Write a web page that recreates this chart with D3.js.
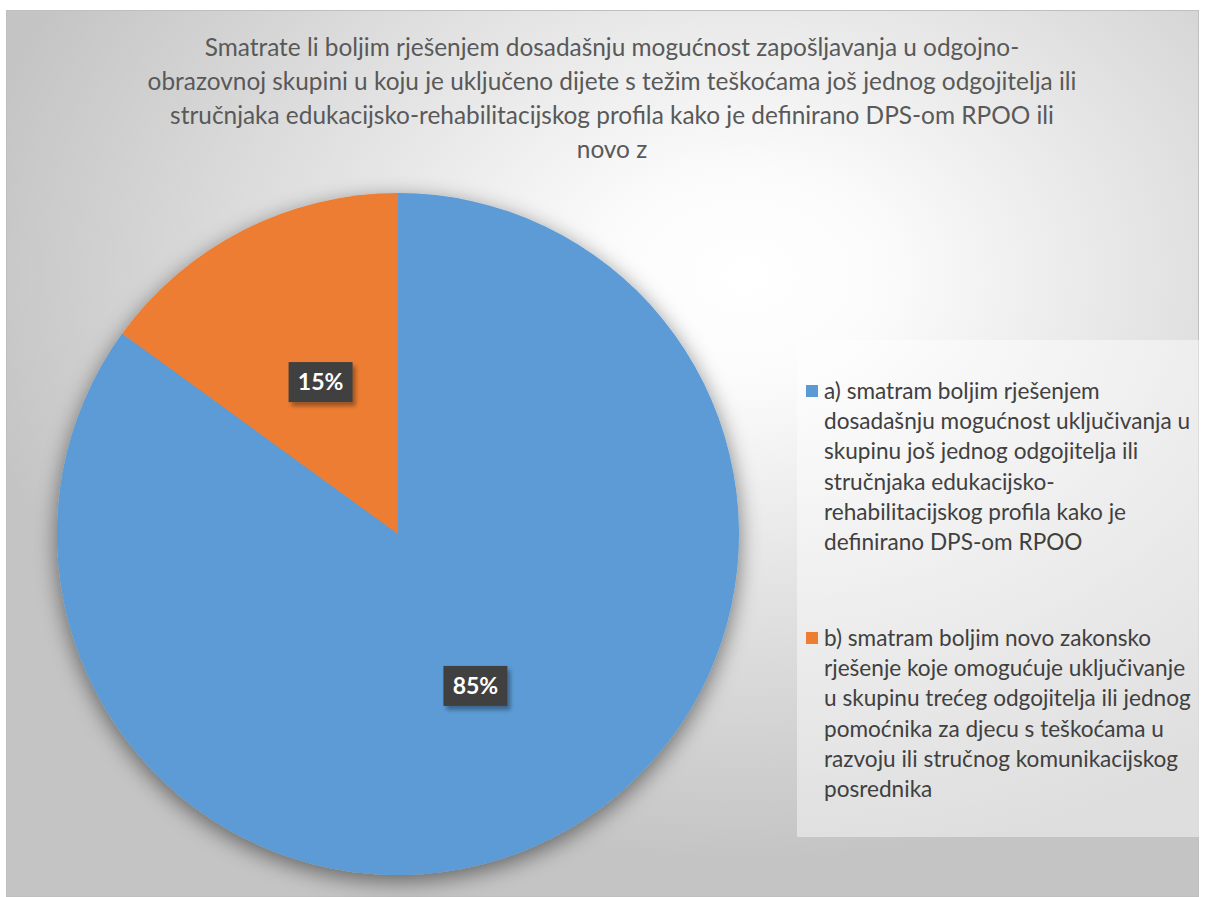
<!DOCTYPE html>
<html>
<head>
<meta charset="utf-8">
<script src="https://cdn.jsdelivr.net/npm/d3@7"></script>
<style>
  body { margin: 0; background: #fff; }
  svg { display: block; }
</style>
</head>
<body>
<div id="chart"></div>
<script>
// chart data
var titleLines = [
    "Smatrate li boljim rješenjem dosadašnju mogućnost zapošljavanja u odgojno-",
    "obrazovnoj skupini u koju je uključeno dijete s težim teškoćama još jednog odgojitelja ili",
    "stručnjaka edukacijsko-rehabilitacijskog profila kako je definirano DPS-om RPOO ili",
    "novo z"
];
var categories = [
    "a) smatram boljim rješenjem dosadašnju mogućnost uključivanja u skupinu još jednog odgojitelja ili stručnjaka edukacijsko-rehabilitacijskog profila kako je definirano DPS-om RPOO",
    "b) smatram boljim novo zakonsko rješenje koje omogućuje uključivanje u skupinu trećeg odgojitelja ili jednog pomoćnika za djecu s teškoćama u razvoju ili stručnog komunikacijskog posrednika"
];
// legend text as it wraps in the picture
var legendLines = [
    ["a) smatram boljim rješenjem", "dosadašnju mogućnost uključivanja u", "skupinu još jednog odgojitelja ili",
     "stručnjaka edukacijsko-", "rehabilitacijskog profila kako je", "definirano DPS-om RPOO"],
    ["b) smatram boljim novo zakonsko", "rješenje koje omogućuje uključivanje", "u skupinu trećeg odgojitelja ili jednog",
     "pomoćnika za djecu s teškoćama u", "razvoju ili stručnog komunikacijskog", "posrednika"]
];
var values = [85, 15];
var colors = ["#5b9bd5", "#ed7d31"];

var W = 1206, H = 897;
var font = "Lato, 'Open Sans', sans-serif";

var svg = d3.select("#chart").append("svg")
    .attr("width", W)
    .attr("height", H);

var defs = svg.append("defs");

// background gradient (white patch upper right, grey corners)
var grad = defs.append("radialGradient")
    .attr("id", "bg")
    .attr("cx", 0.62).attr("cy", 0.3).attr("r", 0.66)
    .attr("fx", 0.62).attr("fy", 0.3);
grad.append("stop").attr("offset", 0).attr("stop-color", "#ffffff");
grad.append("stop").attr("offset", 0.18).attr("stop-color", "#fbfbfb");
grad.append("stop").attr("offset", 1).attr("stop-color", "#c4c4c4");

// soft shadow behind the pie
var sh = defs.append("filter").attr("id", "pieShadow")
    .attr("x", "-20%").attr("y", "-20%").attr("width", "140%").attr("height", "140%");
sh.append("feGaussianBlur").attr("in", "SourceAlpha").attr("stdDeviation", 11).attr("result", "b");
sh.append("feOffset").attr("in", "b").attr("dx", 0).attr("dy", 6).attr("result", "o");
sh.append("feComponentTransfer").attr("in", "o").attr("result", "s")
    .append("feFuncA").attr("type", "linear").attr("slope", 0.5);
var m = sh.append("feMerge");
m.append("feMergeNode").attr("in", "s");
m.append("feMergeNode").attr("in", "SourceGraphic");

var ls = defs.append("filter").attr("id", "lblShadow")
    .attr("x", "-30%").attr("y", "-30%").attr("width", "160%").attr("height", "160%");
ls.append("feGaussianBlur").attr("in", "SourceAlpha").attr("stdDeviation", 2).attr("result", "b");
ls.append("feOffset").attr("in", "b").attr("dx", 3).attr("dy", 4).attr("result", "o");
ls.append("feComponentTransfer").attr("in", "o").attr("result", "s")
    .append("feFuncA").attr("type", "linear").attr("slope", 0.35);
var m2 = ls.append("feMerge");
m2.append("feMergeNode").attr("in", "s");
m2.append("feMergeNode").attr("in", "SourceGraphic");

// chart area
var area = { x: 6, y: 10, w: 1192, h: 886 };
svg.append("rect")
    .attr("x", area.x + 0.5).attr("y", area.y + 0.5)
    .attr("width", area.w).attr("height", area.h)
    .attr("fill", "url(#bg)")
    .attr("stroke", "#bfbfbf")
    .attr("stroke-width", 1);

// title
svg.append("g").selectAll("text")
    .data(titleLines)
    .enter().append("text")
    .attr("x", 612)
    .attr("y", function (d, i) { return 56 + i * 34; })
    .attr("text-anchor", "middle")
    .attr("font-family", font)
    .attr("font-size", "24.4px")
    .attr("fill", "#595959")
    .text(function (d) { return d; });

// pie
var radius = 341;
var cx = 398, cy = 534;

var pie = d3.pie().sort(null).value(function (d) { return d; });
var arcs = pie(values);
var arc = d3.arc().innerRadius(0).outerRadius(radius);
var labelArc = d3.arc().innerRadius(0).outerRadius(radius);

var g = svg.append("g")
    .attr("transform", "translate(" + cx + "," + cy + ")");

g.append("g")
    .attr("filter", "url(#pieShadow)")
    .selectAll("path")
    .data(arcs)
    .enter().append("path")
    .attr("d", arc)
    .attr("fill", function (d, i) { return colors[i]; });

// data labels
var lbl = g.selectAll(".lbl")
    .data(arcs)
    .enter().append("g")
    .attr("class", "lbl")
    .attr("transform", function (d) {
        var c = labelArc.centroid(d);
        return "translate(" + c[0] + "," + c[1] + ")";
    });

lbl.append("rect")
    .attr("x", -32).attr("y", -20)
    .attr("width", 64).attr("height", 40)
    .attr("fill", "#404040")
    .attr("filter", "url(#lblShadow)");

lbl.append("text")
    .attr("text-anchor", "middle")
    .attr("dy", "0.36em")
    .attr("font-family", font)
    .attr("font-size", "23px")
    .attr("font-weight", "bold")
    .attr("fill", "#ffffff")
    .text(function (d) { return Math.round(d.data) + "%"; });

// legend
svg.append("rect")
    .attr("x", 797).attr("y", 340)
    .attr("width", 406).attr("height", 497)
    .attr("fill", "#ffffff")
    .attr("fill-opacity", 0.45);

var legend = svg.append("g").selectAll("g")
    .data(categories)
    .enter().append("g")
    .attr("transform", function (d, i) { return "translate(0," + (i * 247) + ")"; });

legend.append("rect")
    .attr("x", 806).attr("y", 385)
    .attr("width", 12).attr("height", 12)
    .attr("fill", function (d, i) { return colors[i]; });

legend.append("text")
    .attr("font-family", font)
    .attr("font-size", "22.6px")
    .attr("fill", "#404040")
    .selectAll("tspan")
    .data(function (d, i) { return legendLines[i]; })
    .enter().append("tspan")
    .attr("x", 824)
    .attr("y", function (d, j) { return 399 + j * 30.2; })
    .text(function (d) { return d; });
</script>
</body>
</html>
